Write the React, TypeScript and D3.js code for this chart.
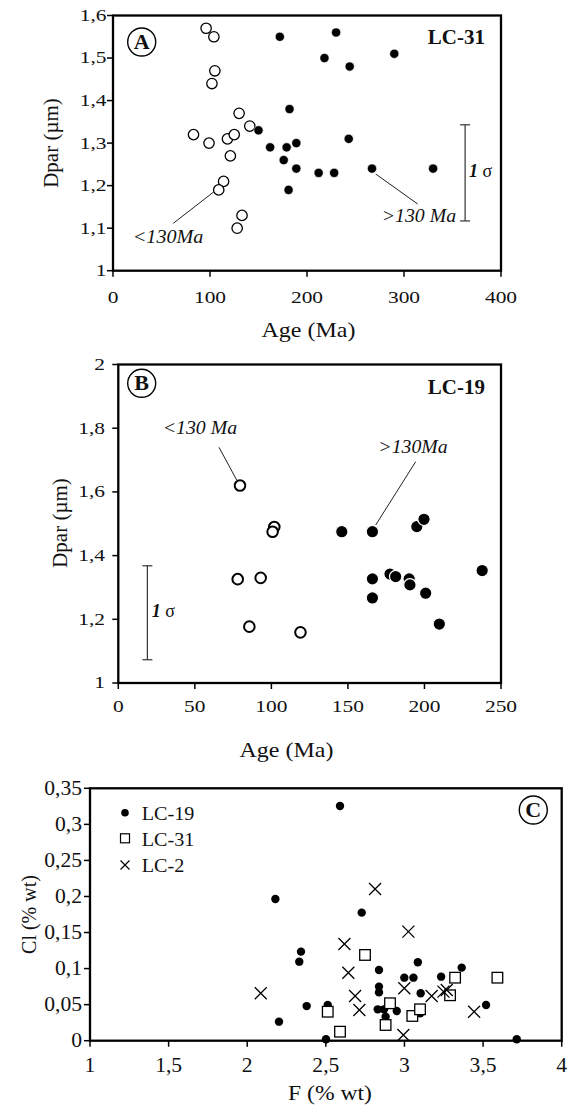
import React from 'react';
import * as d3 from 'd3';

// ---------- DATA ----------
// Panel A (LC-31): [age Ma, Dpar µm]
const lc31Young: [number, number][] = [
  [96, 1.57], [104, 1.55], [105, 1.47], [102, 1.44], [130, 1.37], [141, 1.34], [83, 1.32],
  [99, 1.30], [118, 1.31], [125, 1.32], [121, 1.27], [114, 1.21], [109, 1.19], [133, 1.13], [128, 1.10],
];
const lc31Old: [number, number][] = [
  [172, 1.55], [150, 1.33], [162, 1.29], [179, 1.29], [189, 1.30], [182, 1.38], [230, 1.56],
  [218, 1.50], [244, 1.48], [290, 1.51], [243, 1.31], [176, 1.26], [189, 1.24], [181, 1.19],
  [212, 1.23], [228, 1.23], [267, 1.24], [330, 1.24],
];
// Panel B (LC-19)
const lc19Young: [number, number][] = [
  [79.5, 1.62], [101.9, 1.49], [100.8, 1.475], [78, 1.326], [93, 1.33], [85.6, 1.177], [119, 1.159],
];
const lc19Old: [number, number][] = [
  [146, 1.475], [166, 1.475], [195, 1.491], [199.7, 1.514], [177.5, 1.342], [181.2, 1.334],
  [190, 1.327], [190.5, 1.308], [200.8, 1.282], [166, 1.327], [166, 1.267], [209.7, 1.185], [237.7, 1.353],
];
// Panel C: [F %wt, Cl %wt]
const clLC19: [number, number][] = [
  [2.59, 0.3255], [2.179, 0.1965], [2.342, 0.1235], [2.331, 0.1096], [2.378, 0.048], [2.202, 0.0264],
  [2.728, 0.1776], [3.085, 0.1087], [2.838, 0.098], [3.364, 0.1013], [2.999, 0.0874], [3.057, 0.0874],
  [3.233, 0.0888], [2.838, 0.075], [2.838, 0.067], [3.103, 0.0657], [3.519, 0.0495], [2.512, 0.0495],
  [2.83, 0.0435], [2.87, 0.0435], [2.951, 0.0412], [2.88, 0.0333], [3.1, 0.038], [2.501, 0.002], [3.714, 0.002],
];
const clLC31: [number, number][] = [
  [2.749, 0.1189], [3.322, 0.0874], [3.591, 0.0874], [3.29, 0.063], [2.512, 0.0402], [2.908, 0.0519],
  [2.88, 0.0218], [3.05, 0.0343], [3.099, 0.0435], [2.59, 0.0125],
];
const clLC2: [number, number][] = [
  [2.813, 0.2104], [3.025, 0.1512], [2.618, 0.1341], [2.643, 0.0943], [2.999, 0.0727], [2.086, 0.0657],
  [2.686, 0.062], [3.173, 0.062], [3.248, 0.068], [3.269, 0.0703], [3.443, 0.0402], [2.713, 0.0426], [2.993, 0.008],
];

const ageTicksA = [0, 100, 200, 300, 400];
const dparTicksA = [1, 1.1, 1.2, 1.3, 1.4, 1.5, 1.6];
const ageTicksB = [0, 50, 100, 150, 200, 250];
const dparTicksB = [1, 1.2, 1.4, 1.6, 1.8, 2];
const fTicks = [1, 1.5, 2, 2.5, 3, 3.5, 4];
const clTicks = [0, 0.05, 0.1, 0.15, 0.2, 0.25, 0.3, 0.35];
const legendC = ['LC-19', 'LC-31', 'LC-2'];

// 1-sigma bars (data units)
const sigmaA = { x: 363, lo: 1.117, hi: 1.343 };
const sigmaB = { x: 19, lo: 1.073, hi: 1.368 };

// ---------- HELPERS ----------
const FONT = "'Liberation Serif','Times New Roman',serif";
const fmt = (v: number) => String(+v.toFixed(2)).replace('.', ',');

function T({ x, y, children, size = 17, sx = 1.25, anchor = 'start', weight = 'normal', italic = false, rotate = 0 }: any) {
  return (
    <text
      transform={`translate(${x},${y}) rotate(${rotate}) scale(${sx},1)`}
      fontSize={size}
      textAnchor={anchor}
      fontWeight={weight}
      fontStyle={italic ? 'italic' : 'normal'}
      fontFamily={FONT}
      fill="#111"
    >
      {children}
    </text>
  );
}

function Frame({ xs, ys, xTicks, yTicks, xLabelY, yLabelX, size, sx }: any) {
  const [x0, x1] = xs.range();
  const [yb, yt] = ys.range();
  return (
    <g>
      <rect x={x0} y={yt} width={x1 - x0} height={yb - yt} fill="none" stroke="#000" strokeWidth={2.3} />
      {xTicks.map((t: number) => (
        <g key={'x' + t}>
          <line x1={xs(t)} x2={xs(t)} y1={yb} y2={yb + 6} stroke="#000" strokeWidth={1.5} />
          <T x={xs(t)} y={xLabelY} size={size} sx={sx} anchor="middle">{fmt(t)}</T>
        </g>
      ))}
      {yTicks.map((t: number) => (
        <g key={'y' + t}>
          <line x1={x0 - 6} x2={x0} y1={ys(t)} y2={ys(t)} stroke="#000" strokeWidth={1.5} />
          <T x={yLabelX} y={ys(t) + size * 0.33} size={size} sx={sx} anchor="end">{fmt(t)}</T>
        </g>
      ))}
    </g>
  );
}

function Badge({ cx, cy, letter }: any) {
  return (
    <g>
      <circle cx={cx} cy={cy} r={14} fill="#fff" stroke="#000" strokeWidth={1.4} />
      <T x={cx} y={cy + 7} size={21} sx={1.05} anchor="middle" weight="bold">{letter}</T>
    </g>
  );
}

export default function App() {
  // Panel A scales
  const xA = d3.scaleLinear().domain([0, 400]).range([113, 501]);
  const yA = d3.scaleLinear().domain([1, 1.6]).range([270.7, 15.5]);
  // Panel B
  const xB = d3.scaleLinear().domain([0, 250]).range([118.3, 501]);
  const yB = d3.scaleLinear().domain([1, 2]).range([683, 364.5]);
  // Panel C
  const xC = d3.scaleLinear().domain([1, 4]).range([90, 561.7]);
  const yC = d3.scaleLinear().domain([0, 0.35]).range([1040.7, 788.3]);

  const sigma = (s: any, xs: any, ys: any) => (
    <g stroke="#333" strokeWidth={1.2}>
      <line x1={xs(s.x)} x2={xs(s.x)} y1={ys(s.lo)} y2={ys(s.hi)} />
      <line x1={xs(s.x) - 5} x2={xs(s.x) + 5} y1={ys(s.lo)} y2={ys(s.lo)} />
      <line x1={xs(s.x) - 5} x2={xs(s.x) + 5} y1={ys(s.hi)} y2={ys(s.hi)} />
    </g>
  );

  return (
    <svg width={578} height={1107} style={{ position: 'absolute', left: 0, top: 0, background: '#fff' }}>
      <rect width={578} height={1107} fill="#fff" />
      {/* ---------------- Panel A ---------------- */}
      <Frame xs={xA} ys={yA} xTicks={ageTicksA} yTicks={dparTicksA} xLabelY={302.7} yLabelX={106.5} size={16.5} sx={1.3} />
      {lc31Young.map((d, i) => (
        <circle key={'ay' + i} cx={xA(d[0])} cy={yA(d[1])} r={5.2} fill="#fff" stroke="#000" strokeWidth={1.3} />
      ))}
      {lc31Old.map((d, i) => (
        <circle key={'ao' + i} cx={xA(d[0])} cy={yA(d[1])} r={4.6} fill="#000" stroke="#fff" strokeWidth={0.6} />
      ))}
      <Badge cx={141.7} cy={42} letter="A" />
      <T x={485} y={44} size={20} sx={1.05} anchor="end" weight="bold">LC-31</T>
      {sigma(sigmaA, xA, yA)}
      <text x={469} y={176.7} fontSize={18} fontFamily={FONT} fill="#111">
        <tspan fontStyle="italic" fontWeight="bold">1</tspan>
        <tspan> σ</tspan>
      </text>
      <line x1={173.3} y1={223.3} x2={214} y2={191.7} stroke="#222" strokeWidth={1} />
      <T x={132.7} y={242.7} size={18} sx={1.12} italic>{'<130Ma'}</T>
      <line x1={375.7} y1={174} x2={417.7} y2={204} stroke="#222" strokeWidth={1} />
      <T x={381.7} y={221.7} size={18} sx={1.1} italic>{'>130 Ma'}</T>
      <T x={308.5} y={337} size={20} sx={1.2} anchor="middle">Age (Ma)</T>
      <T x={58} y={143} size={21} sx={1} anchor="middle" rotate={-90}>Dpar (µm)</T>

      {/* ---------------- Panel B ---------------- */}
      <Frame xs={xB} ys={yB} xTicks={ageTicksB} yTicks={dparTicksB} xLabelY={712} yLabelX={105} size={16.5} sx={1.3} />
      {lc19Young.map((d, i) => (
        <circle key={'by' + i} cx={xB(d[0])} cy={yB(d[1])} r={5.3} fill="#fff" stroke="#000" strokeWidth={2} />
      ))}
      {lc19Old.map((d, i) => (
        <circle key={'bo' + i} cx={xB(d[0])} cy={yB(d[1])} r={6.2} fill="#000" stroke="#fff" strokeWidth={1.2} />
      ))}
      <Badge cx={141.7} cy={383.3} letter="B" />
      <T x={485} y={394.3} size={20} sx={1.05} anchor="end" weight="bold">LC-19</T>
      {sigma(sigmaB, xB, yB)}
      <text x={151.7} y={616.7} fontSize={18} fontFamily={FONT} fill="#111">
        <tspan fontStyle="italic" fontWeight="bold">1</tspan>
        <tspan> σ</tspan>
      </text>
      <line x1={219} y1={447.3} x2={236.7} y2={480} stroke="#222" strokeWidth={1} />
      <T x={162.7} y={434} size={18} sx={1.1} italic>{'<130 Ma'}</T>
      <line x1={415.7} y1={461.7} x2={375.7} y2={525} stroke="#222" strokeWidth={1} />
      <T x={378.3} y={452.7} size={18} sx={1.1} italic>{'>130Ma'}</T>
      <T x={286.5} y={757} size={20} sx={1.2} anchor="middle">Age (Ma)</T>
      <T x={67} y={523} size={21} sx={1} anchor="middle" rotate={-90}>Dpar (µm)</T>

      {/* ---------------- Panel C ---------------- */}
      <Frame xs={xC} ys={yC} xTicks={fTicks} yTicks={clTicks} xLabelY={1071.7} yLabelX={82} size={20} sx={1.08} />
      {clLC19.map((d, i) => (
        <circle key={'c19' + i} cx={xC(d[0])} cy={yC(d[1])} r={4.2} fill="#000" />
      ))}
      {clLC31.map((d, i) => (
        <rect key={'c31' + i} x={xC(d[0]) - 5.3} y={yC(d[1]) - 5.3} width={10.6} height={10.6} fill="#fff" stroke="#000" strokeWidth={1.3} />
      ))}
      {clLC2.map((d, i) => (
        <path key={'c2' + i} d={`M${xC(d[0]) - 6},${yC(d[1]) - 6}L${xC(d[0]) + 6},${yC(d[1]) + 6}M${xC(d[0]) - 6},${yC(d[1]) + 6}L${xC(d[0]) + 6},${yC(d[1]) - 6}`} stroke="#000" strokeWidth={1.3} fill="none" />
      ))}
      {/* legend */}
      <circle cx={125} cy={812.7} r={3.8} fill="#000" />
      <rect x={120.5} y={833.8} width={9} height={9} fill="#fff" stroke="#000" strokeWidth={1.2} />
      <path d="M120.5,860.5L129.5,869.5M120.5,869.5L129.5,860.5" stroke="#000" strokeWidth={1.2} />
      {legendC.map((l, i) => (
        <T key={l} x={141.7} y={819.5 + i * 26.2} size={18} sx={1.12}>{l}</T>
      ))}
      <Badge cx={533.3} cy={810} letter="C" />
      <T x={330} y={1100} size={20} sx={1.18} anchor="middle">F (% wt)</T>
      <T x={36} y={914.5} size={20} sx={1} anchor="middle" rotate={-90}>{'Cl  (% wt)'}</T>
    </svg>
  );
}
